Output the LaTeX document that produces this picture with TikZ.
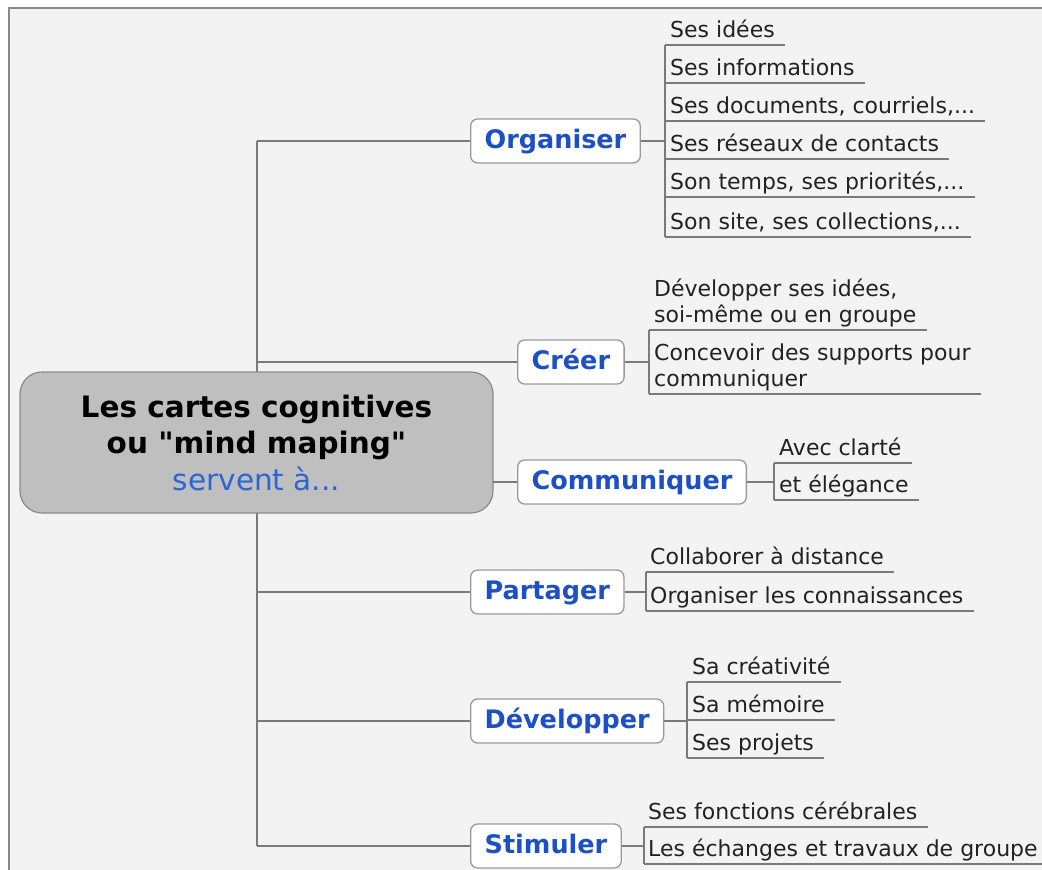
\documentclass[tikz,border=0pt]{standalone}
\usepackage{fontspec}
\setmainfont{DejaVu Sans}[Ligatures=TeXOff]
\definecolor{bgcol}{HTML}{F3F3F3}
\definecolor{framecol}{HTML}{8A8A8A}
\definecolor{linecol}{HTML}{7A7A7A}
\definecolor{boxcol}{HTML}{9A9A9A}
\definecolor{rootfill}{HTML}{BFBFBF}
\definecolor{branchblue}{HTML}{1C50C4}
\definecolor{lightblue}{HTML}{2A66D6}
\definecolor{leafcol}{HTML}{222222}
\pgfdeclarelayer{bg}
\pgfdeclarelayer{lines}
\pgfsetlayers{bg,lines,main}
\tikzset{
  conn/.style={draw=linecol, line width=2pt},
  uline/.style={draw=linecol, line width=1.5pt},
  rootbox/.style={draw=framecol, fill=rootfill, rounded corners=22pt, line width=1.2pt,
    minimum width=473pt, minimum height=141pt, align=center,
    font=\fontsize{29.5}{36.5}\selectfont, inner sep=0pt},
  branch/.style={draw=boxcol, fill=white, rounded corners=7pt, line width=1.3pt,
    anchor=west, inner xsep=14pt, minimum height=44pt, text height=19pt, text depth=5pt,
    font=\bfseries\fontsize{25.5}{30}\selectfont, text=branchblue},
  leaf/.style={anchor=south west, inner sep=0pt, text depth=7pt, align=left,
    font=\fontsize{22}{26}\selectfont, text=leafcol},
}
\begin{document}
\begin{tikzpicture}[x=1pt,y=-1pt]
\useasboundingbox (0,0) rectangle (1042,870);
\begin{pgfonlayer}{bg}
\fill[white] (0,0) rectangle (1042,870);
\fill[bgcol] (9,8) rectangle (1042,870);
\draw[framecol, line width=1.5pt] (1042,8) -- (9,8) -- (9,870);
\end{pgfonlayer}

% root
\node[rootbox] (root) at (256.5,442.5) {\textbf{Les cartes cognitives}\\\textbf{ou "mind maping"}\\{\color{lightblue}servent à...}};

% branches
\node[branch] (org) at (470,141) {Organiser};
\node[branch] (cre) at (517,362) {Créer};
\node[branch] (com) at (517,482) {Communiquer};
\node[branch] (par) at (470,592) {Partager};
\node[branch] (dev) at (470,721) {Développer};
\node[branch] (sti) at (470,846) {Stimuler};

\begin{pgfonlayer}{lines}
\draw[conn] (root.center |- org.west) -- (root.center |- sti.west);
\foreach \b in {org,cre,com,par,dev,sti} {
  \draw[conn] (root.center |- \b.west) -- (\b.west);
}
\end{pgfonlayer}

% bracket coordinates
\coordinate (ob) at (665,0);
\coordinate (cb) at (649,0);
\coordinate (mb) at (774,0);
\coordinate (pb) at (646,0);
\coordinate (db) at (687,0);
\coordinate (sb) at (644,0);

% Organiser leaves
\node[leaf] (o1) at (670,45) {Ses idées};
\node[leaf] (o2) at (670,83) {Ses informations};
\node[leaf] (o3) at (670,121) {Ses documents, courriels,...};
\node[leaf] (o4) at (670,159) {Ses réseaux de contacts};
\node[leaf] (o5) at (670,197) {Son temps, ses priorités,...};
\node[leaf] (o6) at (670,237) {Son site, ses collections,...};
% Créer leaves
\node[leaf] (c1) at (654,330) {Développer ses idées,\\soi-même ou en groupe};
\node[leaf] (c2) at (654,394) {Concevoir des supports pour\\communiquer};
% Communiquer leaves
\node[leaf] (m1) at (779,463) {Avec clarté};
\node[leaf] (m2) at (779,500) {et élégance};
% Partager leaves
\node[leaf] (p1) at (650,572) {Collaborer à distance};
\node[leaf] (p2) at (650,611) {Organiser les connaissances};
% Développer leaves
\node[leaf] (d1) at (692,682) {Sa créativité};
\node[leaf] (d2) at (692,720) {Sa mémoire};
\node[leaf] (d3) at (692,758) {Ses projets};
% Stimuler leaves
\node[leaf] (s1) at (648,827) {Ses fonctions cérébrales};
\node[leaf] (s2) at (648,864) {Les échanges et travaux de groupe};

\begin{pgfonlayer}{lines}
% underlines
\foreach \l/\k in {o1/ob,o2/ob,o3/ob,o4/ob,o5/ob,o6/ob,c1/cb,c2/cb,m1/mb,m2/mb,p1/pb,p2/pb,d1/db,d2/db,d3/db,s1/sb,s2/sb} {
  \draw[uline] (\k |- \l.south) -- ([xshift=10pt]\l.south east);
}
% brackets
\draw[uline] (ob |- o1.south) -- (ob |- o6.south);
\draw[uline] (cb |- c1.south) -- (cb |- c2.south);
\draw[uline] (mb |- m1.south) -- (mb |- m2.south);
\draw[uline] (pb |- p1.south) -- (pb |- p2.south);
\draw[uline] (db |- d1.south) -- (db |- d3.south);
\draw[uline] (sb |- s1.south) -- (sb |- s2.south);
% branch to bracket
\draw[conn] (org.east) -- (org.east -| ob);
\draw[conn] (cre.east) -- (cre.east -| cb);
\draw[conn] (com.east) -- (com.east -| mb);
\draw[conn] (par.east) -- (par.east -| pb);
\draw[conn] (dev.east) -- (dev.east -| db);
\draw[conn] (sti.east) -- (sti.east -| sb);
\end{pgfonlayer}
\end{tikzpicture}
\end{document}
